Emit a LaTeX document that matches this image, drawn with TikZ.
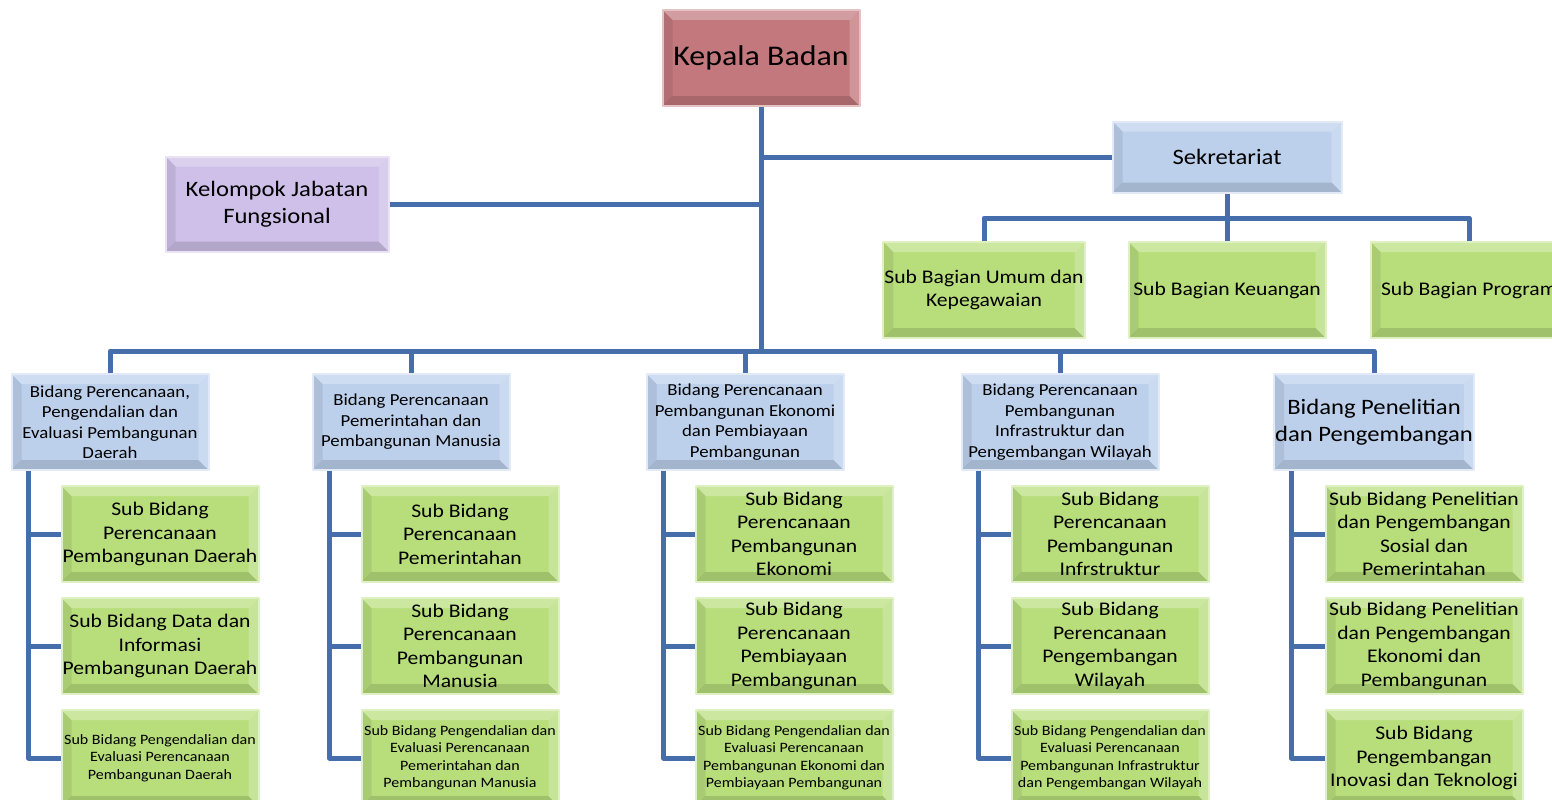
\documentclass[tikz,border=0pt]{standalone}
\usepackage{fontspec}
\setmainfont{Carlito}[FakeStretch=1.12]
\usetikzlibrary{positioning,calc}

\definecolor{linkblue}{RGB}{70,110,172}
\definecolor{kepred}{RGB}{194,120,124}
\definecolor{fungpurple}{RGB}{206,192,232}
\definecolor{bidblue}{RGB}{188,208,236}
\definecolor{subgreen}{RGB}{184,222,124}

\tikzset{
  bevel/.style={path picture={
    \coordinate (bnw) at (path picture bounding box.north west);
    \coordinate (bne) at (path picture bounding box.north east);
    \coordinate (bsw) at (path picture bounding box.south west);
    \coordinate (bse) at (path picture bounding box.south east);
    \fill[white,opacity=.28] (bnw) -- (bne) -- ([shift={(-10pt,-10pt)}]bne) -- ([shift={(10pt,-10pt)}]bnw) -- cycle;
    \fill[black,opacity=.08] (bnw) -- ([shift={(10pt,-10pt)}]bnw) -- ([shift={(10pt,10pt)}]bsw) -- (bsw) -- cycle;
    \fill[black,opacity=.13] (bsw) -- ([shift={(10pt,10pt)}]bsw) -- ([shift={(-10pt,10pt)}]bse) -- (bse) -- cycle;
    \fill[white,opacity=.22] (bse) -- ([shift={(-10pt,10pt)}]bse) -- ([shift={(-10pt,-10pt)}]bne) -- (bne) -- cycle;
  }},
  box/.style={draw=#1!45!white, line width=2pt, fill=#1, bevel,
    minimum width=197pt, minimum height=96pt, align=center, inner sep=1pt},
  subbox/.style={box=subgreen, font=\fontsize{19.3}{23.5}\selectfont},
  subsmall/.style={box=subgreen, font=\fontsize{14.3}{17.5}\selectfont},
  bidbox/.style={box=bidblue, font=\fontsize{16.8}{20.5}\selectfont},
}

\begin{document}
\begin{tikzpicture}[x=1pt, y=-1pt, line join=round,
    link/.style={draw=linkblue, line width=5pt}]
\clip (0,0) rectangle (1552,800);

% top level
\node[box=kepred, font=\fontsize{28.5}{33}\selectfont] (kepala) at (761,58) {Kepala Badan};
\node[box=fungpurple, minimum width=223pt, minimum height=95pt,
  font=\fontsize{22}{27}\selectfont] (fungsional) at (277,204) {Kelompok Jabatan\\Fungsional};
\node[box=bidblue, minimum width=229pt, minimum height=71pt,
  font=\fontsize{22}{27}\selectfont] (sekretariat) at (1227,157) {Sekretariat};

% sekretariat
\node[box=subgreen, font=\fontsize{19.3}{22.5}\selectfont] (umum) at (984,290) {Sub Bagian Umum dan\\Kepegawaian};
\node[box=subgreen, font=\fontsize{19.3}{22.5}\selectfont] (keuangan) at (1227,290) {Sub Bagian Keuangan};
\node[box=subgreen, font=\fontsize{19.3}{22.5}\selectfont] (program) at (1469,290) {Sub Bagian Program};

% bidang
\node[bidbox] (bid1) at (110,422) {Bidang Perencanaan,\\Pengendalian dan\\Evaluasi Pembangunan\\Daerah};
\node[bidbox] (bid2) at (411,422) {Bidang Perencanaan\\Pemerintahan dan\\Pembangunan Manusia};
\node[bidbox] (bid3) at (745,422) {Bidang Perencanaan\\Pembangunan Ekonomi\\dan Pembiayaan\\Pembangunan};
\node[bidbox] (bid4) at (1060,422) {Bidang Perencanaan\\Pembangunan\\Infrastruktur dan\\Pengembangan Wilayah};
\node[bidbox, font=\fontsize{22}{27}\selectfont] (bid5) at (1374,422) {Bidang Penelitian\\dan Pengembangan};

% sub bidang
\node[subbox] (sub11) at (160,534) {Sub Bidang\\Perencanaan\\Pembangunan Daerah};
\node[subbox, below=14pt of sub11] (sub12) {Sub Bidang Data dan\\Informasi\\Pembangunan Daerah};
\node[subsmall, below=14pt of sub12] (sub13) {Sub Bidang Pengendalian dan\\Evaluasi Perencanaan\\Pembangunan Daerah};

\node[subbox] (sub21) at (460,534) {Sub Bidang\\Perencanaan\\Pemerintahan};
\node[subbox, below=14pt of sub21] (sub22) {Sub Bidang\\Perencanaan\\Pembangunan\\Manusia};
\node[subsmall, below=14pt of sub22] (sub23) {Sub Bidang Pengendalian dan\\Evaluasi Perencanaan\\Pemerintahan dan\\Pembangunan Manusia};

\node[subbox] (sub31) at (794,534) {Sub Bidang\\Perencanaan\\Pembangunan\\Ekonomi};
\node[subbox, below=14pt of sub31] (sub32) {Sub Bidang\\Perencanaan\\Pembiayaan\\Pembangunan};
\node[subsmall, below=14pt of sub32] (sub33) {Sub Bidang Pengendalian dan\\Evaluasi Perencanaan\\Pembangunan Ekonomi dan\\Pembiayaan Pembangunan};

\node[subbox] (sub41) at (1110,534) {Sub Bidang\\Perencanaan\\Pembangunan\\Infrstruktur};
\node[subbox, below=14pt of sub41] (sub42) {Sub Bidang\\Perencanaan\\Pengembangan\\Wilayah};
\node[subsmall, below=14pt of sub42] (sub43) {Sub Bidang Pengendalian dan\\Evaluasi Perencanaan\\Pembangunan Infrastruktur\\dan Pengembangan Wilayah};

\node[subbox] (sub51) at (1424,534) {Sub Bidang Penelitian\\dan Pengembangan\\Sosial dan\\Pemerintahan};
\node[subbox, below=14pt of sub51] (sub52) {Sub Bidang Penelitian\\dan Pengembangan\\Ekonomi dan\\Pembangunan};
\node[subbox, below=14pt of sub52] (sub53) {Sub Bidang\\Pengembangan\\Inovasi dan Teknologi};

% connectors
\coordinate (bar) at (761,351);
\coordinate (sbar) at (1227,218);
\draw[link] (kepala) -- (bar);
\draw[link] (kepala.south |- sekretariat.west) -- (sekretariat.west);
\draw[link] (fungsional.east) -- (fungsional.east -| kepala.south);
\draw[link] (sekretariat) -- (sbar);
\draw[link] (umum.north) |- (sbar) -| (program.north);
\draw[link] (keuangan.north) -- (sbar);
\draw[link] (bid1.north) |- (bar) -| (bid5.north);
\foreach \b in {bid2,bid3,bid4}
  \draw[link] (\b.north) -- (\b.north |- bar);
\foreach \c in {1,...,5}{
  \coordinate (stem) at ([xshift=18pt]bid\c.south west);
  \draw[link] (stem) |- (sub\c3.west);
  \draw[link] (sub\c1.west -| stem) -- (sub\c1.west);
  \draw[link] (sub\c2.west -| stem) -- (sub\c2.west);
}
\end{tikzpicture}
\end{document}
